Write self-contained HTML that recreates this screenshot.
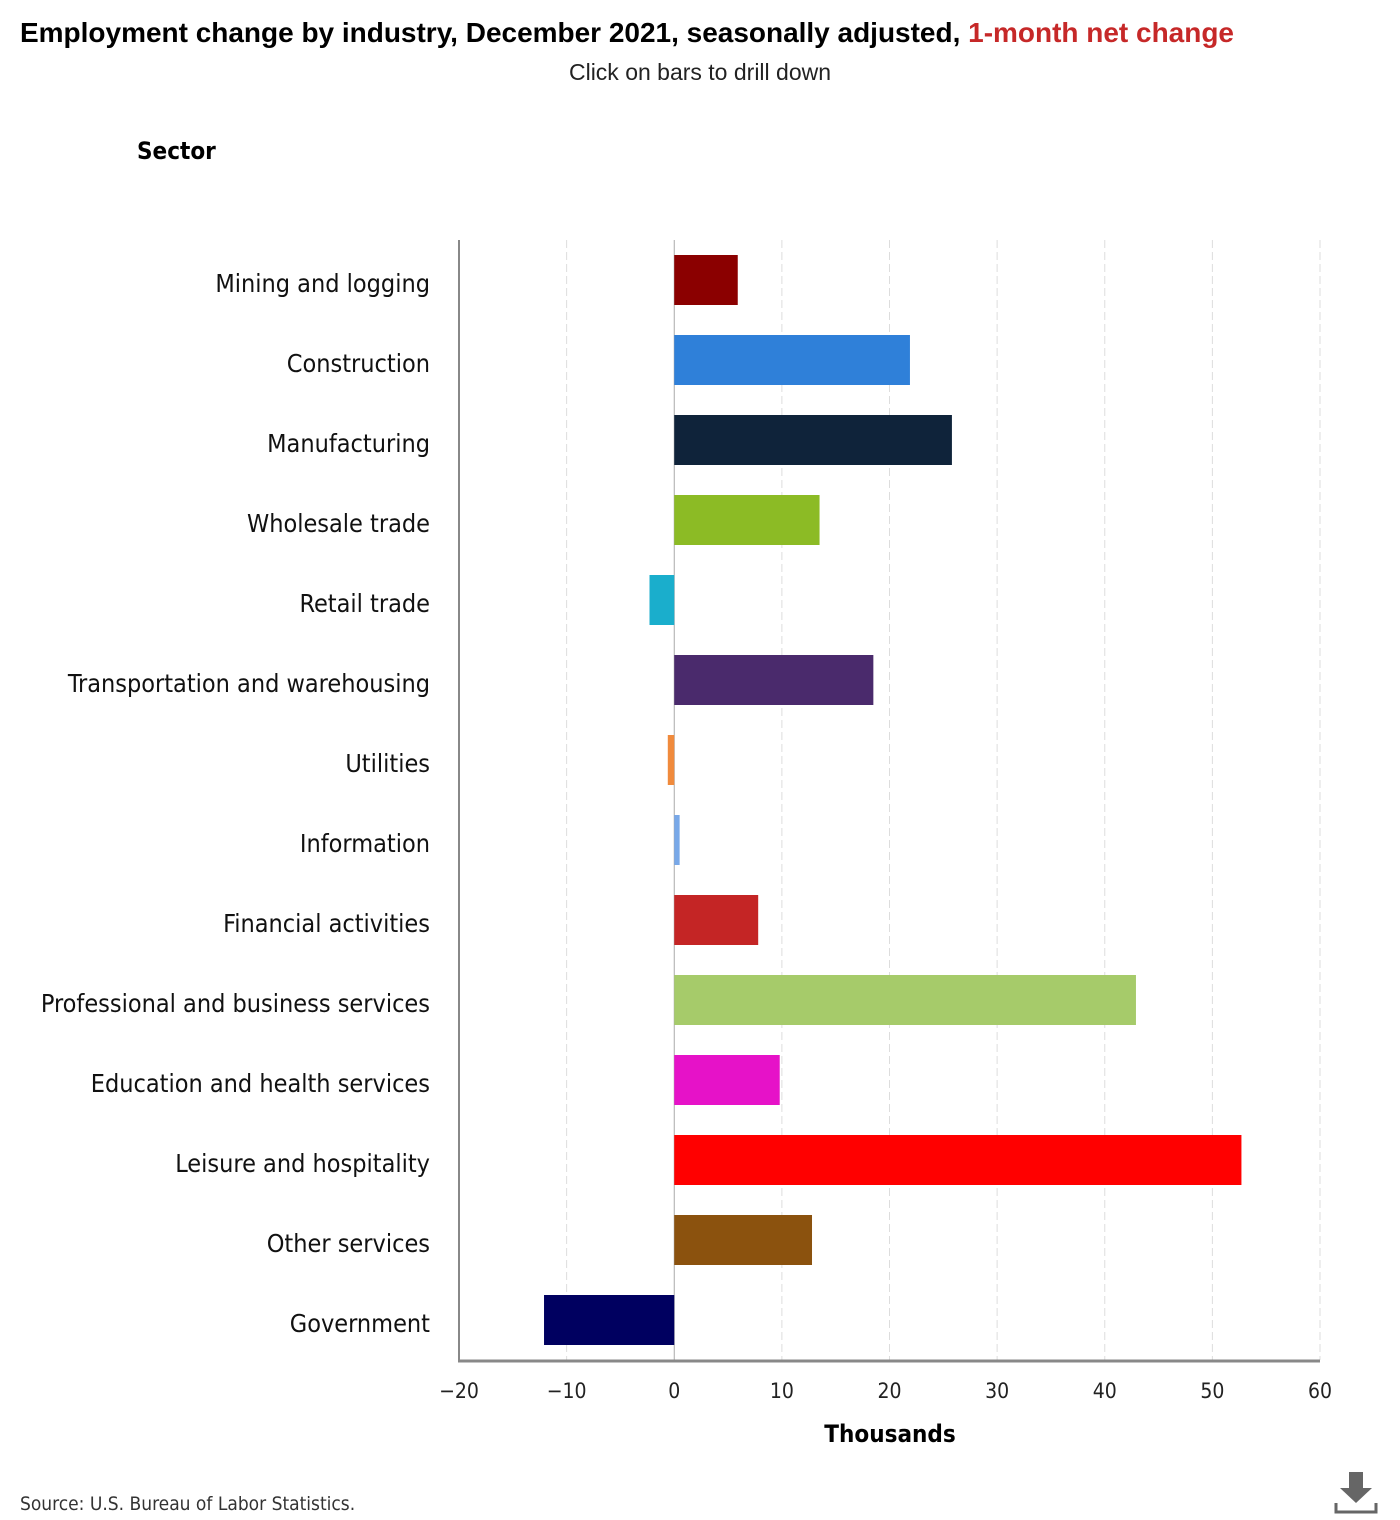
<!DOCTYPE html>
<html><head><meta charset="utf-8"><style>
body{margin:0;background:#fff;font-family:"Liberation Sans",sans-serif;}
#wrap{position:relative;width:1400px;height:1520px;}
</style></head><body>
<div id="wrap">
<svg id="chart" width="1400" height="1520" style="position:absolute;left:0;top:0">
<text x="20" y="42" font-size="28" font-weight="bold" fill="#000" textLength="1214" lengthAdjust="spacingAndGlyphs">Employment change by industry, December 2021, seasonally adjusted, <tspan fill="#c62828">1-month net change</tspan></text>
<text x="700" y="80" font-size="23" text-anchor="middle" fill="#222">Click on bars to drill down</text>
<text x="137" y="159" font-size="24" font-weight="bold" fill="#000" font-family="DejaVu Sans Condensed, DejaVu Sans, sans-serif">Sector</text>
<g id="grid"></g><g id="bars"></g><g id="labels"></g><g id="ticks"></g>
<line x1="459" y1="240" x2="459" y2="1361" stroke="#888" stroke-width="2"/>
<line x1="458" y1="1361" x2="1320" y2="1361" stroke="#888" stroke-width="3"/>
<text x="890" y="1442" font-size="24" font-weight="bold" text-anchor="middle" font-family="DejaVu Sans Condensed, DejaVu Sans, sans-serif">Thousands</text>
<text x="20" y="1510" font-size="19" fill="#333" font-family="DejaVu Sans Condensed, DejaVu Sans, sans-serif">Source: U.S. Bureau of Labor Statistics.</text>
<g>
<rect x="1349" y="1472" width="14" height="18" fill="#666"/><polygon points="1340,1488 1372,1488 1356,1503" fill="#666"/>
<polyline points="1336,1503 1336,1512 1376,1512 1376,1503" fill="none" stroke="#666" stroke-width="3"/>
</g>
</svg>
</div>
<script>
const categories=["Mining and logging","Construction","Manufacturing","Wholesale trade","Retail trade","Transportation and warehousing","Utilities","Information","Financial activities","Professional and business services","Education and health services","Leisure and hospitality","Other services","Government"];
const values=[5.9,21.9,25.8,13.5,-2.3,18.5,-0.6,0.5,7.8,42.9,9.8,52.7,12.8,-12.1];
const colors=["#8b0000","#2f80d9","#0f233a","#8cbb25","#1aaecc","#4a2a6c","#f08a3c","#78a8e8","#c42525","#a6cb6a","#e612c8","#ff0000","#8b520e","#000060"];
const tickValues=[-20,-10,0,10,20,30,40,50,60];
const tickLabels=["\u221220","\u221210","0","10","20","30","40","50","60"];
const NS="http://www.w3.org/2000/svg";
const X0=459,X1=1320,DMIN=-20,DMAX=60,PTOP=240,BAND=80;
function xs(v){return X0+(v-DMIN)/(DMAX-DMIN)*(X1-X0);}
function ys(i){return PTOP+i*BAND;}
function mk(t,a,p){const e=document.createElementNS(NS,t);for(const k in a)e.setAttribute(k,a[k]);document.getElementById(p).appendChild(e);return e;}
tickValues.forEach((v,i)=>{
 if(v!==0){const g=mk('line',{x1:xs(v),x2:xs(v),y1:PTOP,y2:1360,stroke:'#ddd','stroke-dasharray':'8,4'},'grid');
 
 }
 const t=mk('text',{x:xs(v),y:1398,'font-size':21,'text-anchor':'middle','font-family':'DejaVu Sans Condensed, DejaVu Sans, sans-serif',fill:'#222'},'ticks');
 t.textContent=tickLabels[i];
 
 
});
categories.forEach((c,i)=>{
 const v=values[i];const a=xs(Math.min(0,v)),b=xs(Math.max(0,v));
 const r=mk('rect',{x:a,y:ys(i)+15,width:Math.max(b-a,1),height:50,fill:colors[i],style:'cursor:pointer'},'bars');
 
 
 const t=mk('text',{x:430,y:ys(i)+52,'font-size':25,'text-anchor':'end','font-family':'DejaVu Sans Condensed, DejaVu Sans, sans-serif',fill:'#111'},'labels');
 t.textContent=c;
 
 
});
const z=mk('line',{x1:xs(0),x2:xs(0),y1:PTOP,y2:1360,stroke:'#aaa','stroke-width':1},'grid');


</script>
</body></html>
